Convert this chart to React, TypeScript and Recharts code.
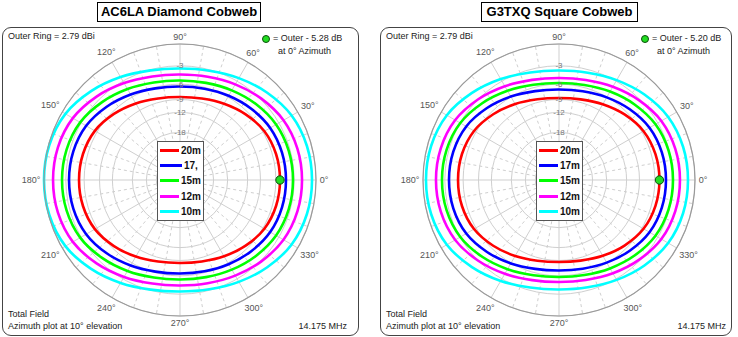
import React from "react";
import {
  RadarChart,
  Radar,
  PolarGrid,
  PolarAngleAxis,
  PolarRadiusAxis,
  Legend,
} from "recharts";

// azimuth in degrees, 0 = right, counter-clockwise
const azimuths = [
  0, 15, 30, 45, 60, 75, 90, 105, 120, 135, 150, 165, 180, 195, 210, 225, 240,
  255, 270, 285, 300, 315, 330, 345,
];

// dB relative to the outer ring (2.79 dBi)
const diamond20 = [-5.28, -5.36, -5.72, -6.55, -7.45, -8.2, -8.48, -8.18, -7.39, -6.44, -5.57, -5.2, -5.11, -5.2, -5.57, -6.44, -7.39, -8.18, -8.48, -8.2, -7.45, -6.55, -5.72, -5.36];
const diamond17 = [-4.28, -4.34, -4.58, -5.15, -5.76, -6.25, -6.43, -6.18, -5.49, -4.66, -3.9, -3.57, -3.49, -3.57, -3.9, -4.66, -5.49, -6.18, -6.43, -6.25, -5.76, -5.15, -4.58, -4.34];
const diamond15 = [-3.18, -3.24, -3.49, -4.06, -4.68, -5.18, -5.36, -5.11, -4.43, -3.61, -2.84, -2.52, -2.44, -2.52, -2.84, -3.61, -4.43, -5.11, -5.36, -5.18, -4.68, -4.06, -3.49, -3.24];
const diamond12 = [-1.86, -1.93, -2.22, -2.87, -3.57, -4.14, -4.36, -4.08, -3.34, -2.44, -1.62, -1.26, -1.18, -1.26, -1.62, -2.44, -3.34, -4.08, -4.36, -4.14, -3.57, -2.87, -2.22, -1.93];
const diamond10 = [-0.51, -0.59, -0.92, -1.67, -2.49, -3.16, -3.41, -3.11, -2.31, -1.35, -0.47, -0.09, 0, -0.09, -0.47, -1.35, -2.31, -3.11, -3.41, -3.16, -2.49, -1.67, -0.92, -0.59];

const square20 = [-5.2, -5.3, -5.69, -6.58, -7.57, -8.38, -8.68, -8.37, -7.53, -6.52, -5.6, -5.2, -5.11, -5.2, -5.6, -6.52, -7.53, -8.37, -8.68, -8.38, -7.57, -6.58, -5.69, -5.3];
const square17 = [-4.12, -4.2, -4.52, -5.27, -6.08, -6.74, -6.99, -6.7, -5.92, -4.97, -4.1, -3.73, -3.64, -3.73, -4.1, -4.97, -5.92, -6.7, -6.99, -6.74, -6.08, -5.27, -4.52, -4.2];
const square15 = [-3.03, -3.11, -3.42, -4.14, -4.92, -5.56, -5.8, -5.52, -4.77, -3.86, -3.03, -2.67, -2.58, -2.67, -3.03, -3.86, -4.77, -5.52, -5.8, -5.56, -4.92, -4.14, -3.42, -3.11];
const square12 = [-2.01, -2.09, -2.41, -3.18, -4.0, -4.68, -4.94, -4.66, -3.91, -3.0, -2.17, -1.81, -1.72, -1.81, -2.17, -3.0, -3.91, -4.66, -4.94, -4.68, -4.0, -3.18, -2.41, -2.09];
const square10 = [-0.91, -0.98, -1.3, -2.03, -2.83, -3.48, -3.72, -3.43, -2.65, -1.71, -0.84, -0.47, -0.38, -0.47, -0.84, -1.71, -2.65, -3.43, -3.72, -3.48, -2.83, -2.03, -1.3, -0.98];

const diamondNames = ["20m", "17,", "15m", "12m", "10m"];
const squareNames = ["20m", "17m", "15m", "12m", "10m"];
const bandColors = ["#ff0000", "#0000ff", "#00ff00", "#ff00ff", "#00ffff"];

const ringDb = [0, -3, -6, -9, -12, -18, -24, -30];
const ringLabels = [-3, -6, -9, -12, -18];
const spokes = [0, 30, 60, 90, 120, 150, 180, 210, 240, 270, 300, 330];
const minorSpokes = [10, 20, 40, 50, 70, 80, 100, 110, 130, 140, 160, 170, 190, 200, 220, 230, 250, 260, 280, 290, 310, 320, 340, 350];

const CX = 180;
const CY = 180;
const R = 136;
const FONT = '"Liberation Sans", Arial, sans-serif';

// ARRL log-periodic scale: radius shrinks by 0.89 every 2 dB
const arrl = (db: number) => Math.pow(0.89, -db / 2);
const arrlToDb = (v: number) => Math.round((-2 * Math.log(v)) / Math.log(0.89));

const toRows = (series: number[][]) =>
  azimuths.map((az, i) => {
    const row: Record<string, number> = { az };
    series.forEach((s, k) => {
      row[`b${k}`] = arrl(s[i]);
    });
    return row;
  });

// closed catmull-rom curve through the points recharts computed
function SmoothLoop(props: any) {
  const pts = props.points || [];
  const n = pts.length;
  if (n < 3) return null;
  let d = `M${pts[0].x},${pts[0].y}`;
  for (let i = 0; i < n; i++) {
    const p0 = pts[(i - 1 + n) % n];
    const p1 = pts[i];
    const p2 = pts[(i + 1) % n];
    const p3 = pts[(i + 2) % n];
    const c1x = p1.x + (p2.x - p0.x) / 6;
    const c1y = p1.y + (p2.y - p0.y) / 6;
    const c2x = p2.x - (p3.x - p1.x) / 6;
    const c2y = p2.y - (p3.y - p1.y) / 6;
    d += ` C${c1x},${c1y} ${c2x},${c2y} ${p2.x},${p2.y}`;
  }
  return <path d={d + "Z"} fill="none" stroke={props.stroke} strokeWidth={props.strokeWidth} strokeLinejoin="round" />;
}

function AngleTick(props: any) {
  const az = Number(props.payload?.value);
  if (az % 30 !== 0 || az >= 360) return <g />;
  const cx = props.cx ?? CX;
  const cy = props.cy ?? CY;
  const radius = props.radius ?? R;
  const label = `${az}°`;
  const rad = (az * Math.PI) / 180;
  const w = label.length * 5;
  const r = radius + 3 + (Math.abs(Math.cos(rad)) * w) / 2 + Math.abs(Math.sin(rad)) * 4;
  return (
    <text
      x={cx + r * Math.cos(rad)}
      y={cy - r * Math.sin(rad)}
      textAnchor="middle"
      dominantBaseline="central"
      fontSize={9}
      fontFamily={FONT}
      fill="#555"
    >
      {label}
    </text>
  );
}

function RingTick(props: any) {
  const db = arrlToDb(props.payload?.value);
  if (!ringLabels.includes(db)) return <g />;
  return (
    <text
      x={props.x}
      y={props.y}
      textAnchor="middle"
      dominantBaseline="central"
      fontSize={8}
      fontFamily={FONT}
      fill="#777"
    >
      {db}
    </text>
  );
}

function makeLegend(names: string[]) {
  return function LegendBox({ payload }: any) {
    const items = [...(payload || [])].sort(
      (a: any, b: any) => names.indexOf(a.value) - names.indexOf(b.value)
    );
    return (
      <div
        style={{
          border: "1.5px solid #555",
          background: "#fff",
          padding: "1px 2px",
          width: 41,
          fontFamily: FONT,
        }}
      >
        {items.map((entry: any) => (
          <div key={entry.value} style={{ display: "flex", alignItems: "center", height: 15.2 }}>
            <span style={{ display: "inline-block", width: 22, height: 3, background: entry.color, marginRight: 2 }} />
            <span style={{ fontWeight: "bold", fontSize: 10, color: "#111" }}>{entry.value}</span>
          </div>
        ))}
      </div>
    );
  };
}

interface PanelProps {
  left: number;
  title: string;
  titleLeft: number;
  titleWidth: number;
  borderLeft: number;
  borderWidth: number;
  series: number[][];
  names: string[];
  markerDb: string;
}

function CobwebPanel({ left, title, titleLeft, titleWidth, borderLeft, borderWidth, series, names, markerDb }: PanelProps) {
  const rows = toRows(series);
  const LegendBox = makeLegend(names);
  const text: React.CSSProperties = { position: "absolute", fontSize: 9, fontFamily: FONT, color: "#222", whiteSpace: "nowrap", lineHeight: "11px" };
  return (
    <div style={{ position: "absolute", left, top: 0, width: 360, height: 337 }}>
      <div
        style={{
          position: "absolute",
          left: borderLeft,
          top: 27,
          width: borderWidth,
          height: 309,
          boxSizing: "border-box",
          border: "1.5px solid #444",
          borderRadius: 9,
        }}
      />
      <div style={{ position: "absolute", left: 0, top: 0 }}>
        <RadarChart
          width={360}
          height={337}
          data={rows}
          cx={CX}
          cy={CY}
          outerRadius={R}
          startAngle={0}
          endAngle={360}
          margin={{ top: 0, right: 0, bottom: 0, left: 0 }}
        >
          <PolarGrid gridType="circle" polarAngles={spokes} stroke="#cfcfcf" strokeWidth={1} />
          <PolarGrid gridType="circle" polarAngles={minorSpokes} polarRadius={[]} stroke="#cfcfcf" strokeDasharray="3 3" />
          <PolarAngleAxis
            dataKey="az"
            type="number"
            domain={[0, 360]}
            ticks={spokes}
            axisLineType="circle"
            axisLine={{ stroke: "#9a9a9a", strokeWidth: 1.2 }}
            tickLine={false}
            tick={AngleTick}
          />
          <PolarRadiusAxis
            angle={90}
            type="number"
            domain={[0, 1]}
            ticks={ringDb.map(arrl)}
            axisLine={false}
            tickLine={false}
            tick={RingTick}
          />
          {names.map((name, k) => (
            <Radar
              key={name}
              name={name}
              dataKey={`b${k}`}
              stroke={bandColors[k]}
              strokeWidth={2.6}
              fill="none"
              fillOpacity={0}
              isAnimationActive={false}
              shape={SmoothLoop}
              dot={
                k === 0
                  ? (p: any) =>
                      p.index === 0 ? (
                        <circle key="marker" cx={p.cx} cy={p.cy} r={4.2} fill="#22dd22" stroke="#0b4d0b" strokeWidth={1} />
                      ) : (
                        <g key={`d${p.index}`} />
                      )
                  : false
              }
            />
          ))}
          <Legend
            layout="vertical"
            align="center"
            verticalAlign="middle"
            content={<LegendBox />}
            wrapperStyle={{ left: 157, top: 141, width: 47 }}
          />
        </RadarChart>
      </div>
      <div
        style={{
          position: "absolute",
          left: titleLeft,
          top: 2,
          width: titleWidth,
          height: 20,
          boxSizing: "border-box",
          border: "1px solid #000",
          background: "#fff",
          textAlign: "center",
          fontFamily: FONT,
          fontWeight: "bold",
          fontSize: 13,
          lineHeight: "18px",
          color: "#000",
        }}
      >
        {title}
      </div>
      <div style={{ ...text, left: borderLeft + 6, top: 31 }}>Outer Ring = 2.79 dBi</div>
      <svg style={{ position: "absolute", left: 261, top: 34 }} width={10} height={10}>
        <circle cx={5} cy={5} r={3.5} fill="#22dd22" stroke="#0b4d0b" strokeWidth={1} />
      </svg>
      <div style={{ ...text, left: 273, top: 33 }}>= Outer - {markerDb} dB</div>
      <div style={{ ...text, left: 278, top: 46 }}>at 0° Azimuth</div>
      <div style={{ ...text, left: borderLeft + 6, top: 309 }}>Total Field</div>
      <div style={{ ...text, left: borderLeft + 6, top: 321 }}>Azimuth plot at 10° elevation</div>
      <div style={{ ...text, right: 13, top: 321 }}>14.175 MHz</div>
    </div>
  );
}

export default function App() {
  return (
    <div style={{ position: "absolute", left: 0, top: 0, width: 738, height: 337, background: "#fff" }}>
      <CobwebPanel
        left={0}
        title="AC6LA Diamond Cobweb"
        titleLeft={97}
        titleWidth={164}
        borderLeft={2}
        borderWidth={357}
        series={[diamond20, diamond17, diamond15, diamond12, diamond10]}
        names={diamondNames}
        markerDb="5.28"
      />
      <CobwebPanel
        left={379}
        title="G3TXQ Square Cobweb"
        titleLeft={102}
        titleWidth={157}
        borderLeft={1}
        borderWidth={352}
        series={[square20, square17, square15, square12, square10]}
        names={squareNames}
        markerDb="5.20"
      />
    </div>
  );
}
